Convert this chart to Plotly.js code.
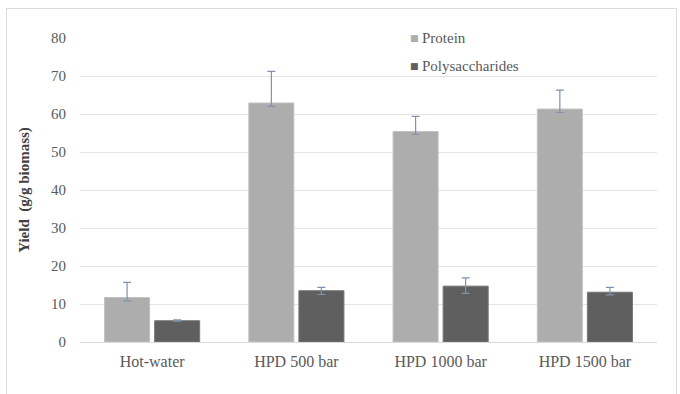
<!DOCTYPE html>
<html>
<head>
<meta charset="utf-8">
<script src="https://cdn.plot.ly/plotly-3.0.1.min.js"></script>
<style>
  html, body { margin: 0; padding: 0; background: #fff; }
  #wrap { position: relative; width: 680px; height: 394px; }
  #chart { position: absolute; left: 0; top: 0; width: 680px; height: 394px; }
  #frame { position: absolute; left: 6px; top: 8px; width: 669px; height: 390px;
           border: 1px solid #dcdcdc; pointer-events: none; }
</style>
</head>
<body>
<div id="wrap">
  <div id="chart"></div>
  <div id="frame"></div>
</div>
<script>
const categories = ["Hot-water", "HPD 500 bar", "HPD 1000 bar", "HPD 1500 bar"];
const seriesNames = ["Protein", "Polysaccharides"];
const proteinValues = [11.7, 62.9, 55.4, 61.3];
const proteinErrPlus = [4.0, 8.3, 4.0, 5.0];
const proteinErrMinus = [0.9, 0.9, 0.8, 0.9];
const polyValues = [5.6, 13.5, 14.7, 13.1];
const polyErrPlus = [0.2, 0.9, 2.2, 1.3];
const polyErrMinus = [0.1, 1.0, 1.9, 0.7];
const yTicks = [0, 10, 20, 30, 40, 50, 60, 70, 80];

const FONT = "Liberation Serif";
const colors = ["#adadad", "#5f5f5f"];
const errStyle = { color: "#7f93b0", thickness: 1.2, width: 4 };

const traces = [
  {
    type: "bar", name: seriesNames[0], x: categories, y: proteinValues,
    showlegend: false,
    marker: { color: colors[0], line: { color: "#c2c2c2", width: 1 } },
    error_y: Object.assign({ type: "data", symmetric: false,
      array: proteinErrPlus, arrayminus: proteinErrMinus }, errStyle)
  },
  {
    type: "bar", name: seriesNames[1], x: categories, y: polyValues,
    showlegend: false,
    marker: { color: colors[1], line: { color: "#777777", width: 1 } },
    error_y: Object.assign({ type: "data", symmetric: false,
      array: polyErrPlus, arrayminus: polyErrMinus }, errStyle)
  }
];

// custom legend (small square markers like the original)
const plotL = 80, plotW = 577, plotT = 38, plotH = 304;
const px2x = px => (px - plotL) / plotW;
const py2y = py => 1 - (py - plotT) / plotH;
const legendRows = [38, 66];
const annotations = [];
seriesNames.forEach((n, i) => {
  annotations.push({
    xref: "paper", yref: "paper", x: px2x(414), y: py2y(legendRows[i]),
    xanchor: "center", yanchor: "middle", showarrow: false,
    text: "■", font: { family: "DejaVu Sans", size: 9, color: colors[i] }
  });
  annotations.push({
    xref: "paper", yref: "paper", x: px2x(420), y: py2y(legendRows[i]),
    xanchor: "left", yanchor: "middle", showarrow: false,
    text: n, font: { family: FONT, size: 15, color: "#595959" }
  });
});

const layout = {
  width: 680, height: 394,
  margin: { l: plotL, r: 680 - plotL - plotW, t: plotT, b: 394 - plotT - plotH },
  paper_bgcolor: "#ffffff", plot_bgcolor: "#ffffff",
  font: { family: FONT, size: 15, color: "#595959" },
  barmode: "group", bargap: 0.306, bargroupgap: 0.1,
  showlegend: false,
  shapes: [{
    type: "rect", xref: "paper", yref: "paper", layer: "above",
    x0: px2x(402), x1: px2x(533), y0: py2y(76 - 3), y1: py2y(26),
    fillcolor: "#ffffff", line: { width: 0 }
  }],
  annotations: annotations,
  xaxis: {
    type: "category", showgrid: false, zeroline: false, showline: false,
    ticks: "", ticklabelstandoff: 8,
    tickfont: { family: FONT, size: 16, color: "#595959" }
  },
  yaxis: {
    range: [0, 80], tickvals: yTicks, ticktext: yTicks.map(String),
    showgrid: true, gridcolor: "#e4e4e4", gridwidth: 1,
    zeroline: true, zerolinecolor: "#d9d9d9", zerolinewidth: 1,
    showline: false, ticks: "", ticklabelstandoff: 13,
    tickfont: { family: FONT, size: 15, color: "#595959" },
    title: { text: "<b>Yield  (g/g biomass)</b>", standoff: 17,
             font: { size: 15, color: "#404040", family: FONT } }
  }
};

Plotly.newPlot("chart", traces, layout, { displayModeBar: false, staticPlot: true });
</script>
</body>
</html>
